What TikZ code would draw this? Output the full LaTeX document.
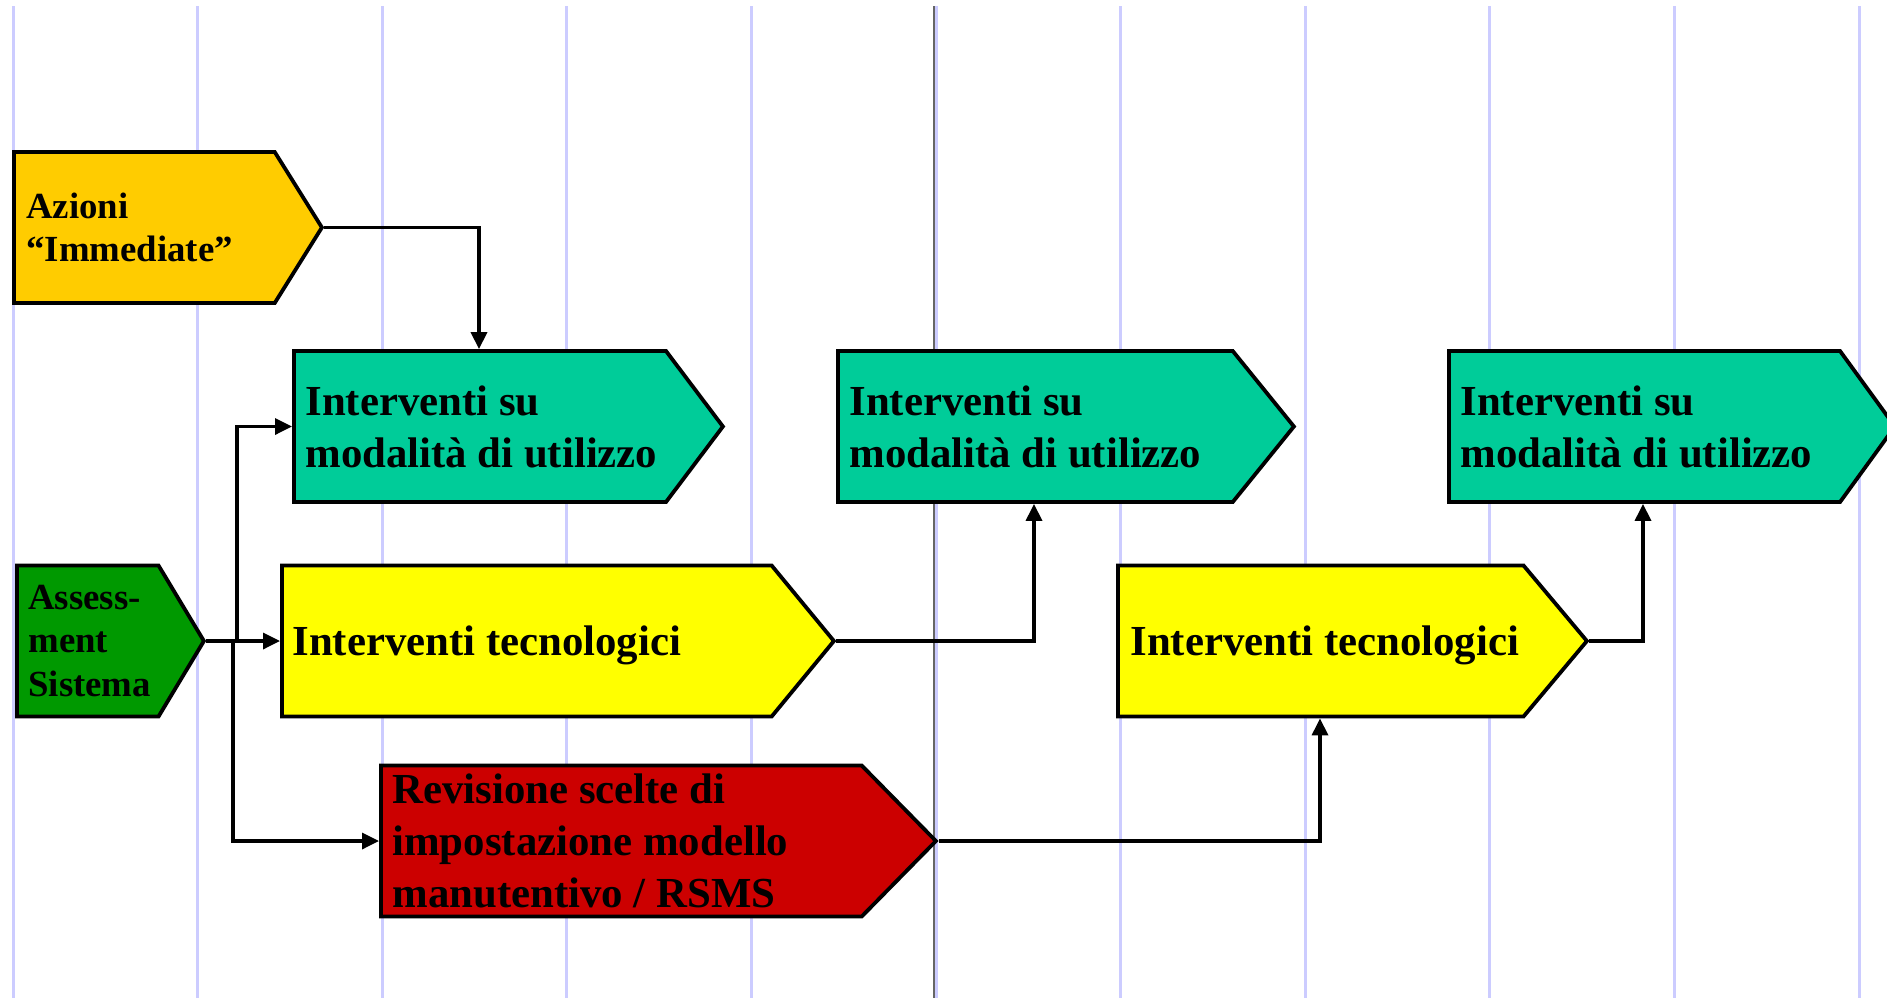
\documentclass[tikz,border=0pt]{standalone}
\usepackage{fontspec}
\setmainfont{Liberation Serif}
\usetikzlibrary{shapes.symbols,arrows.meta,positioning}
\definecolor{lanecol}{HTML}{CCCCFF}
\definecolor{orangeyellow}{HTML}{FFCC00}
\definecolor{teal}{HTML}{00CC99}
\definecolor{darkgreen}{HTML}{009900}
\definecolor{brightyellow}{HTML}{FFFF00}
\definecolor{darkred}{HTML}{CC0000}

\begin{document}
\begin{tikzpicture}[x=0.5pt,y=-0.5pt,
		chev/.style={signal, signal to=east, draw=black, line width=1.9pt,
			minimum height=75.5pt, inner sep=0pt, anchor=west},
		big/.style={inner sep=0pt, font=\fontsize{21.4}{26}\selectfont\bfseries},
		small/.style={inner sep=0pt, font=\fontsize{18.4}{21.7}\selectfont\bfseries},
		arr/.style={line width=1.7pt, -{Triangle[length=8.5pt,width=8pt]}},
		lane/.style={lanecol, line width=1.5pt}
	]
	\fill[white] (0,0) rectangle (1887,998);
	\useasboundingbox (0,0) rectangle (1887,998);
	
	% swim lanes
	\foreach \i in {0,...,10}
		\draw[lane] (13+184.6*\i,6) -- (13+184.6*\i,998);
	\draw[black!60, line width=0.6pt] (934,6) -- (934,998);
	
	\node[chev, fill=orangeyellow, minimum width=154pt, signal pointer angle=116] (az) at (12,227.5) {};
	\node[chev, fill=teal, minimum width=214.5pt, signal pointer angle=106] (int1) at (292,426.5) {};
	\node[chev, fill=teal, minimum width=228pt, signal pointer angle=102] (int2) at (836,426.5) {};
	\node[chev, fill=teal, minimum width=223pt, signal pointer angle=108] (int3) at (1447,426.5) {};
	\node[chev, fill=darkgreen, minimum width=93.5pt, signal pointer angle=118] (asse) at (15,641) {};
	\node[chev, fill=brightyellow, minimum width=276pt, signal pointer angle=101] (tec1) at (280,641) {};
	\node[chev, fill=brightyellow, minimum width=234.5pt, signal pointer angle=100] (tec2) at (1116,641) {};
	\node[chev, fill=darkred, minimum width=277.5pt, signal pointer angle=91] (rev) at (379,841) {};
	
	\node[small, align=left, right=7pt of az.west] (az-t) {Azioni\\“Immediate”};
	\node[big, align=left, right=6.5pt of int1.west] (int1-t) {Interventi su\\modalità di utilizzo};
	\node[big, align=left, right=6.5pt of int2.west] (int2-t) {Interventi su\\modalità di utilizzo};
	\node[big, align=left, right=6.5pt of int3.west] (int3-t) {Interventi su\\modalità di utilizzo};
	\node[small, align=left, right=6.5pt of asse.west] (asse-t) {Assess-\\ment\\Sistema};
	\node[big, text depth=0pt, right=6pt of tec1.west] (tec1-t) {Interventi tecnologici};
	\node[big, text depth=0pt, right=7pt of tec2.west] (tec2-t) {Interventi tecnologici};
	\node[big, align=left, right=6.5pt of rev.west] (rev-t) {Revisione scelte di\\impostazione modello\\manutentivo / RSMS};
	
	\coordinate (split1) at (237,641);
	\coordinate (split2) at (233,641);
	
	\draw[arr] (az.east) -| ([xshift=93.5pt]int1.west |- int1.north);
	\draw[arr] (asse.east) -- (tec1.west);
	\draw[arr] (asse.east) -- (split1) |- (int1.west);
	\draw[arr] (asse.east) -- (split2) |- (rev.west);
	\draw[arr] (tec1.east) -| ([xshift=99pt]int2.west |- int2.south);
	\draw[arr] (rev.east) -| ([xshift=102pt]tec2.west |- tec2.south);
	\draw[arr] (tec2.east) -| ([xshift=98pt]int3.west |- int3.south);
\end{tikzpicture}
\end{document}
